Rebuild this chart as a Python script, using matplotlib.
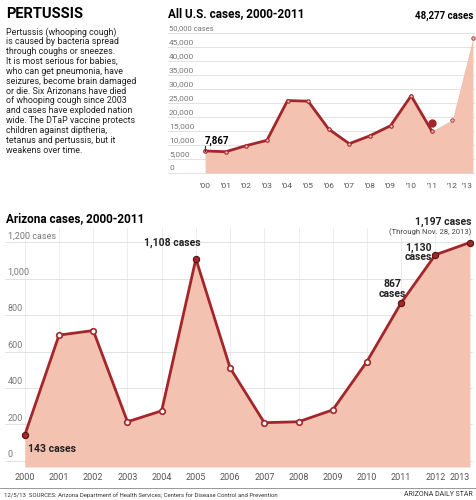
import matplotlib
matplotlib.use("Agg")
import matplotlib.pyplot as plt

plt.rcParams["font.family"] = ["Roboto", "DejaVu Sans"]

us_years = list(range(0, 14))
us_line = [7867, 7580, 9771, 11647, 25827, 25616, 15632, 10454, 13278, 16858, 27550, 15000]
us_fill = us_line + [19000, 48277]
us_ticks = ["'00", "'01", "'02", "'03", "'04", "'05", "'06", "'07", "'08", "'09", "'10", "'11", "'12", "'13"]

az_years = list(range(2000, 2014))
az_cases = [143, 690, 715, 215, 275, 1108, 510, 210, 215, 280, 545, 867, 1130, 1197]

FILL = "#f3c2b1"
LINE = "#a3262a"
W, H = 477, 500

fig = plt.figure(figsize=(4.77, 5.0), dpi=100)

def ax_px(l, t, r, b):
    return fig.add_axes([l / W, 1 - b / H, (r - l) / W, (b - t) / H])

# text block
fig.text(6 / W, 1 - 14 / H, "PERTUSSIS", fontsize=10.5, fontweight="bold", va="center")
blurb = ("Pertussis (whooping cough)\nis caused by bacteria spread\nthrough coughs or sneezes.\n"
         "It is most serious for babies,\nwho can get pneumonia, have\nseizures, become brain damaged\n"
         "or die. Six Arizonans have died\nof whooping cough since 2003\nand cases have exploded nation\n"
         "wide. The DTaP vaccine protects\nchildren against diptheria,\ntetanus and pertussis, but it\nweakens over time.")
fig.text(6 / W, 1 - 27 / H, blurb, fontsize=6.4, va="top", linespacing=1.12, color="#222222")

# US chart
ax = ax_px(168, 30, 475, 180)
ax.fill_between(us_years, us_fill, 0, color=FILL, lw=0)
ax.plot(us_years[:12], us_line, color=LINE, lw=2)
ax.plot(us_years[:12], us_line, "o", ms=2.5, mfc=FILL, mec=LINE, mew=0.8)
ax.plot([12, 13], us_fill[12:], "o", ms=2.5, mfc=FILL, mec=LINE, mew=0.6)
ax.plot([11], [18000], "o", ms=5, color=LINE)
ax.set_xlim(-1.8, 13.1)
ax.set_ylim(-2500, 51000)
for v in range(0, 50001, 5000):
    ax.axhline(v, color="#dddddd", lw=0.6, zorder=0)
    lab = "50,000 cases" if v == 50000 else f"{v:,}"
    ax.text(-1.75, v + 600, lab, fontsize=5.5 if v == 50000 else 6, color="#777777", va="bottom")
ax.set_xticks(us_years)
ax.set_xticklabels(us_ticks, fontsize=6, color="#555555")
ax.get_xticklabels()[-1].set_ha("right")
ax.tick_params(length=0, pad=2)
ax.set_yticks([])
for s in ax.spines.values():
    s.set_visible(False)
ax.text(0, 9800, "7,867", fontsize=7, fontweight="bold", va="bottom")
ax.plot([0, 0], [us_line[0], 9500], color="#333333", lw=0.8)
fig.text(168 / W, 1 - 14 / H, "All U.S. cases, 2000-2011", fontsize=8.5, fontweight="bold", va="center")
fig.text(473 / W, 1 - 16 / H, "48,277 cases", fontsize=7, fontweight="bold", va="center", ha="right")

# Arizona chart
ax2 = ax_px(5, 228, 473, 467)
ax2.fill_between(az_years, az_cases, -33, color=FILL, lw=0)
for yr in az_years:
    ax2.axvline(yr, color="#e6e6e6", lw=0.5, zorder=0)
ax2.plot(az_years, az_cases, color=LINE, lw=2)
hl = [2000, 2005, 2011, 2012, 2013]
for yr, c in zip(az_years, az_cases):
    if yr in hl:
        ax2.plot(yr, c, "o", ms=4.5, color=LINE, mec="#5a1010", mew=0.8)
    else:
        ax2.plot(yr, c, "o", ms=4, mfc="white", mec=LINE, mew=1.2)
ax2.set_xlim(1999.42, 2013.1)
ax2.set_ylim(-33, 1277)
for v in range(0, 1201, 200):
    ax2.axhline(v, color="#dddddd", lw=0.6, zorder=0)
    lab = "1,200 cases" if v == 1200 else f"{v:,}"
    ax2.text(1999.5, v + 10, lab, fontsize=6.5, color="#777777", va="bottom")
ax2.set_xticks(az_years)
ax2.set_xticklabels([str(y) for y in az_years], fontsize=6.5, color="#555555")
ax2.get_xticklabels()[-1].set_ha("right")
ax2.tick_params(length=0, pad=4)
ax2.set_yticks([])
for s in ax2.spines.values():
    s.set_visible(False)
kw = dict(fontsize=7.5, fontweight="bold", color="#222222")
ax2.text(2000.8, 95, "143 cases", ha="center", va="top", **kw)
ax2.text(2004.3, 1170, "1,108 cases", ha="center", va="bottom", **kw)
ax2.text(2010.75, 890, "867\ncases", ha="center", va="bottom", linespacing=0.9, **kw)
ax2.text(2011.9, 1145, "1,130\ncases", ha="right", va="center", linespacing=0.9, **kw)
ax2.text(2013.05, 1280, "1,197 cases", ha="right", va="bottom", **kw)
ax2.text(2013.05, 1275, "(Through Nov. 28, 2013)", ha="right", va="top", fontsize=5.5, color="#444444")
fig.text(6 / W, 1 - 219 / H, "Arizona cases, 2000-2011", fontsize=8.5, fontweight="bold", va="center")

# footer
fig.add_artist(plt.Line2D([0, 1], [1 - 488 / H] * 2, color="#888888", lw=0.6))
fig.text(4 / W, 1 - 495 / H, "12/5/13  SOURCES: Arizona Department of Health Services; Centers for Disease Control and Prevention",
         fontsize=4.3, va="center", color="#333333")
fig.text(473 / W, 1 - 495 / H, "ARIZONA DAILY STAR", fontsize=5, va="center", ha="right", color="#333333")

fig.savefig("out.png", dpi=100)
